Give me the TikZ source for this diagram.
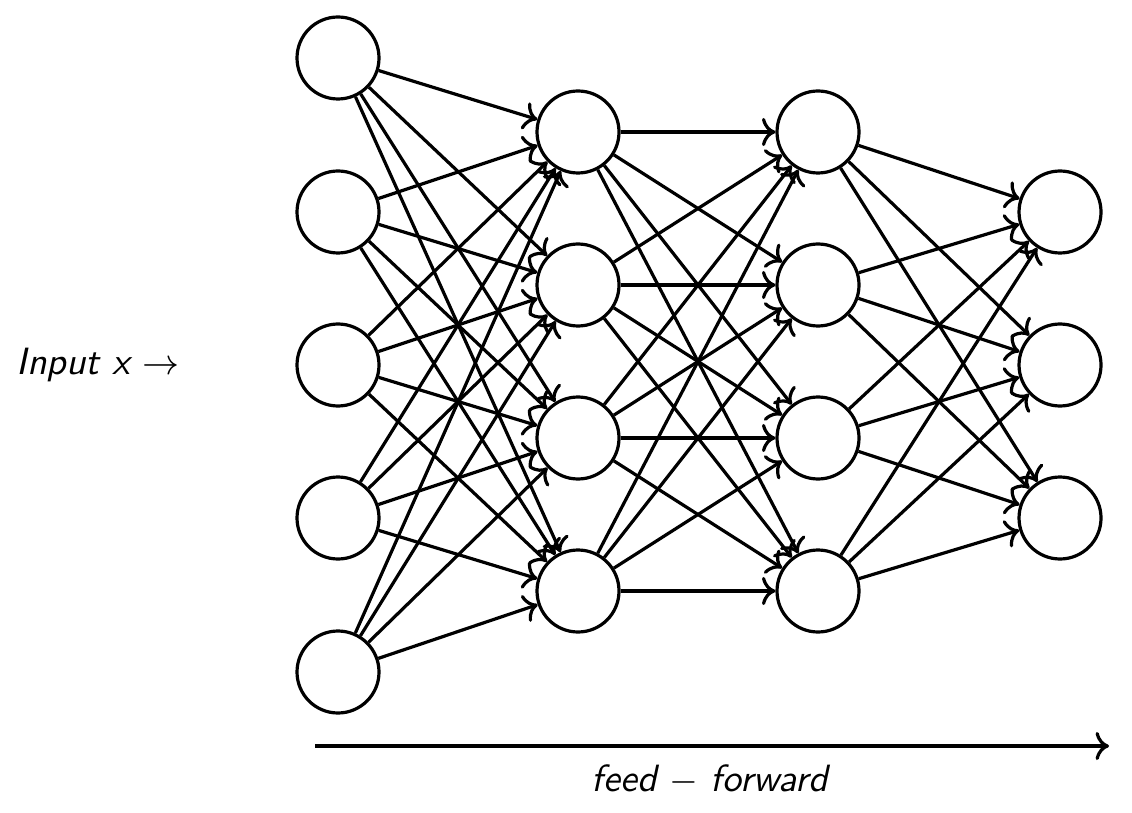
\documentclass[tikz,border=0pt]{standalone}
\usetikzlibrary{arrows.meta}
\begin{document}
\begin{tikzpicture}[x=0.25pt,y=-0.25pt,
  neuron/.style={circle,draw,thick,minimum size=20.5pt,inner sep=0pt},
  conn/.style={->,thick},
  lbl/.style={font=\sffamily\slshape\fontsize{9.5}{11}\selectfont}]
\useasboundingbox (0,0) rectangle (1132,812);
% layer 1
\foreach \i/\y in {1/58,2/212,3/365,4/518,5/672}
  \node[neuron] (a\i) at (338,\y) {};
% layer 2
\foreach \i/\y in {1/132,2/285,3/438,4/591}
  \node[neuron] (b\i) at (578,\y) {};
% layer 3
\foreach \i/\y in {1/132,2/285,3/438,4/591}
  \node[neuron] (c\i) at (818,\y) {};
% layer 4
\foreach \i/\y in {1/212,2/365,3/518}
  \node[neuron] (d\i) at (1060,\y) {};
\foreach \i in {1,...,5}
  \foreach \j in {1,...,4}
    \draw[conn] (a\i) -- (b\j);
\foreach \i in {1,...,4}
  \foreach \j in {1,...,4}
    \draw[conn] (b\i) -- (c\j);
\foreach \i in {1,...,4}
  \foreach \j in {1,...,3}
    \draw[conn] (c\i) -- (d\j);
\node[lbl] (inp) at (98,365) {Input x $\rightarrow$};
\coordinate (fs) at (315,746);
\coordinate (fe) at (1109,746);
\draw[conn] (fs) -- (fe);
\node[lbl] (ff) at (710,780) {feed $-$ forward};
\end{tikzpicture}
\end{document}
